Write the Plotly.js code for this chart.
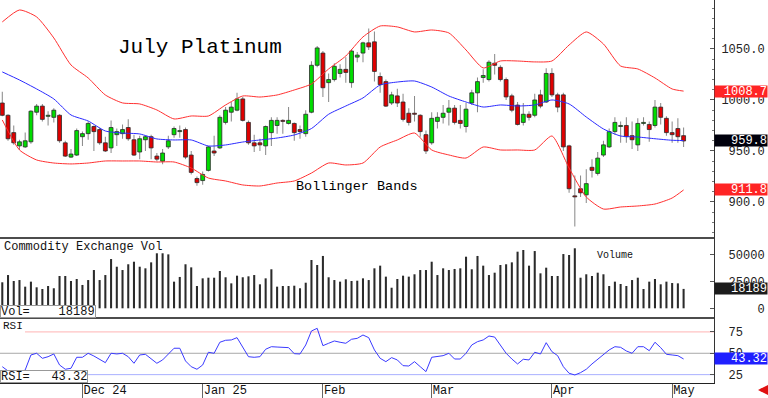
<!DOCTYPE html>
<html><head><meta charset="utf-8">
<script src="https://cdn.plot.ly/plotly-3.0.1.min.js"></script>
<style>html,body{margin:0;padding:0;background:#fff}#chart{width:768px;height:398px}</style>
</head><body><div id="chart"></div>
<script>
// ---- data (trading-day index 0 = Nov 11 2024 ... 119 = May 5 2025) ----
const openP = [997,985,968,955,954,959,988,994,984,983,
 985,958,944,946,964,967,974,971,958,953,
 966,967,973,961,949,961,964,945,940,954,
 966,969,971,946,923,921,931,950,953,978,
 988,990,1001,978,958,958,955,968,975,980,
 977,977,971,967,988,1034,1046,1017,1020,1026,
 1030,1017,1042,1046,1056,1057,1023,1018,997,1004,
 998,987,987,985,966,958,979,983,988,992,
 980,974,997,1007,1022,1020,1036,1032,1020,1004,
 995,978,986,985,1005,998,1026,1005,1005,955,
 906,913,907,934,928,946,954,969,974,975,
 965,956,977,976,975,993,982,968,972,965];
const highP = [1008,986,975,961,968,990,996,996,989,992,
 986,960,952,972,969,979,975,973,964,980,
 972,976,981,966,965,965,966,948,952,965,
 974,975,973,950,925,930,955,965,985,993,
 998,1007,1003,980,966,962,975,983,983,981,
 993,978,975,990,1038,1053,1048,1026,1036,1035,
 1042,1050,1047,1057,1070,1067,1027,1020,1008,1011,
 1006,992,1004,986,970,988,988,995,1000,995,
 995,997,1010,1022,1030,1039,1045,1034,1022,1006,
 998,997,989,1006,1010,1031,1031,1007,1007,956,
 926,926,932,942,949,960,972,983,979,983,
 979,982,983,979,1000,997,984,979,982,973];
const lowP = [984,960,956,951,953,957,985,979,975,978,
 958,944,943,945,955,961,950,956,949,948,
 955,962,960,945,942,950,942,940,937,952,
 963,963,942,927,916,917,930,945,952,976,
 979,989,979,956,949,950,946,955,967,967,
 976,960,962,964,987,1032,1003,998,1018,1022,
 1017,1012,1037,1037,1049,1018,1007,993,995,993,
 979,975,979,964,947,956,972,977,975,976,
 972,968,995,988,1017,1018,1025,1018,1000,988,
 975,975,980,983,992,997,1003,988,950,909,
 876,905,899,924,926,944,953,966,958,958,
 952,950,975,959,973,976,965,958,958,954];
const closeP = [985,962,958,959,960,989,994,981,985,990,
 960,945,947,970,967,977,969,958,950,973,
 969,971,962,946,962,964,953,942,948,960,
 972,970,944,929,919,927,954,948,983,990,
 993,1001,980,958,955,956,974,980,980,979,
 980,968,969,986,1034,1051,1012,1020,1033,1030,
 1027,1048,1044,1056,1052,1028,1015,994,1005,997,
 981,978,986,969,950,982,983,987,992,978,
 977,991,1007,1018,1024,1037,1034,1020,1003,990,
 976,986,983,1000,994,1026,1005,993,954,913,
 905,909,918,931,943,956,969,978,975,964,
 961,977,978,971,993,983,968,966,964,959.8];
const volume = [24400,31200,25600,26500,20300,25000,19700,18100,20900,18800,
 30300,30300,25600,27500,21900,26500,35900,26500,31200,46200,
 39000,35900,41300,43700,39000,37500,43100,51600,51600,50600,
 25000,29400,41300,38400,20900,28100,28700,28700,35000,29100,
 23400,30600,29100,30000,31200,22500,28100,36600,20300,20900,
 20900,21200,18800,24000,45300,40600,49100,29100,26500,25000,
 27200,25600,25900,28100,26500,37500,40000,29700,19300,27500,
 30600,29700,31900,35900,35900,43700,31200,37500,35900,36900,
 37500,48400,36600,49100,40000,31200,33400,40600,41300,43100,
 53100,54700,40000,53700,32800,38100,30300,30300,50900,50000,
 56300,28700,31900,30300,33400,31900,20900,25000,22800,20900,
 26500,28700,18100,25000,27500,22500,25000,23700,23400,18189];
const rsi = [34.3,29.3,27,26,30.5,48,50,44.1,46,49.2,
 36.3,31.3,32.4,45.3,45.3,50,46.8,43,39,50,
 49.2,50,46,38.3,48,48.8,43.3,38.3,42.2,48.8,
 55.9,55.9,41,34.3,31.3,36.3,51.2,50,62.9,65.2,
 65.6,68.3,57.7,46,45.3,46,54.7,57.7,57.3,57,
 56.6,49.5,49.2,59.7,76.1,79.2,58.9,61.7,64.4,62.9,
 61.7,66.4,67.5,71.4,68.3,53.9,44.1,40.2,44.9,42.2,
 35.5,35.1,40.2,34.3,28.5,45.3,46,47.2,50,43.3,
 43.3,50,59.7,63.6,65.6,70.2,69,59.7,50,43.3,
 37.5,43,42.2,51.2,49.2,62.4,51.9,47.2,34.3,26.6,
 24.6,27.3,31.3,37.5,43.3,48.8,53.9,57.7,57,52.7,
 50,57.7,57.7,53,62.9,56.6,48.8,48,47.2,43.32];
const bandIdx = [0,3,6,9,12,15,18,21,24,27,30,33,36,39,42,45,48,51,54,57,60,63,66,69,72,75,78,81,84,87,90,93,96,99,102,105,108,111,114,117,119];
const bbUpper = [1076.5,1088.2,1081.4,1060.8,1034.3,1021.6,1004.9,997.1,996.1,990.2,981.4,984.3,984.3,995.1,1003.9,1002.9,1004.9,1009.8,1015.7,1030.4,1043.1,1061.8,1072.5,1071.6,1066.7,1068.6,1065.7,1049,1031.4,1038.2,1038.2,1037.3,1038.2,1053.9,1066.7,1054.9,1033.3,1030.4,1021.6,1010.8,1008.7];
const bbMiddle = [1027.5,1019.6,1010.8,1001,985.3,979.4,969.6,967.6,966.7,961.8,960.8,960.8,954.9,955.9,958.8,960.8,962.7,965.7,972,986,994.1,1002,1014.7,1017.6,1018.6,1012.7,1003.9,998,993.1,995.1,994.1,995.1,1000,996.1,983.3,971.6,964.7,963.7,962,960.5,960.25];
const bbLower = [980.4,951,941.2,938.2,937.3,938.2,940.2,940.2,940.2,939.2,939.2,933.3,923.5,920.6,916.7,915.7,918.6,920.6,928.4,938.2,936.3,938.2,953.9,960.8,967.6,951,946.1,943.1,953.9,951,951,951,964.7,933.3,904.9,893.1,895.1,896.1,898,903.9,911.8];
const monthIdx = [14,35,56,75,96,117];
const monthLabels = ['Dec 24','Jan 25','Feb','Mar','Apr','May'];
const priceTicks = [900,950,1000,1050];
const volTicks = [0,25000,50000];
const rsiTicks = [25,50,75];

// ---- build ----
const idx = closeP.map((_, i) => i);
const FONT = 'Liberation Mono, DejaVu Sans Mono, monospace';
const NB = '\u00a0';
const pad = (s, n) => NB.repeat(Math.max(0, n - s.length)) + s;

const bodyBase = idx.map(i => Math.min(openP[i], closeP[i]));
const bodyH = idx.map(i => Math.max(Math.abs(closeP[i] - openP[i]), 0.8));
const bodyCol = idx.map(i => closeP[i] >= openP[i] ? '#00dd00' : '#e00000');

const traces = [
  {type:'bar', x: idx, base: lowP, y: idx.map(i => highP[i] - lowP[i]), width: 0.18,
   marker:{color:'#8a8a8a', line:{width:0}}, xaxis:'x', yaxis:'y', hoverinfo:'skip'},
  {type:'bar', x: idx, base: bodyBase, y: bodyH, width: 0.68,
   marker:{color: bodyCol, line:{color:'#2a2a2a', width:0.8}}, xaxis:'x', yaxis:'y'},
  {type:'scatter', mode:'lines', x: bandIdx, y: bbUpper, line:{color:'#ff3030', width:1, shape:'spline', smoothing:0.6}, xaxis:'x', yaxis:'y'},
  {type:'scatter', mode:'lines', x: bandIdx, y: bbMiddle, line:{color:'#2a2aff', width:1, shape:'spline', smoothing:0.6}, xaxis:'x', yaxis:'y'},
  {type:'scatter', mode:'lines', x: bandIdx, y: bbLower, line:{color:'#ff3030', width:1, shape:'spline', smoothing:0.6}, xaxis:'x', yaxis:'y'},
  {type:'bar', x: idx, y: volume, width: 0.36, marker:{color:'#2b2b2b', line:{width:0}}, xaxis:'x', yaxis:'y2'},
  {type:'scatter', mode:'lines', x: idx, y: rsi, line:{color:'#3a3aff', width:1}, xaxis:'x', yaxis:'y3'}
];

const H = 383; // plot height px
const pY = px => 1 - px / H;
const W = 714;
const pX = px => px / W;

const yCommon = {side:'right', showline:true, linecolor:'#333', linewidth:1, showgrid:false, zeroline:false,
  ticks:'inside', ticklen:4, tickcolor:'#555', tickfont:{family:FONT, size:12, color:'#222'}, fixedrange:true,
  tickmode:'array', ticklabelstandoff:4};

const last = closeP.length - 1;
const rbox = (y, yref, txt, bg) => ({xref:'paper', x: pX(768), xanchor:'right', yref, y, yanchor:'middle',
  text: txt, showarrow:false, bgcolor: bg, width: 52, height: 11, align:'right', borderpad:0,
  font:{family:FONT, size:12, color:'#fff'}});

const layout = {
  width:768, height:398, margin:{l:0, r:54, t:0, b:15},
  paper_bgcolor:'#fff', plot_bgcolor:'#fff', showlegend:false, barmode:'overlay',
  xaxis:{range:[-0.4, 124.31], anchor:'y3', showline:true, linecolor:'#222', linewidth:1, showgrid:false, zeroline:false,
    ticks:'outside', ticklen:15, tickcolor:'#666', tickmode:'array', tickvals: monthIdx, ticktext: monthLabels,
    ticklabelposition:'outside right', ticklabelstandoff:-4,
    tickfont:{family:FONT, size:12, color:'#111'}, fixedrange:true},
  yaxis:Object.assign({}, yCommon, {domain:[pY(238), 1], range:[864.7, 1098], tickvals: priceTicks,
    ticktext: priceTicks.map(v => pad(v.toFixed(1), 6)),
    minor:{ticks:'inside', ticklen:2, dtick:10, tick0:0, tickcolor:'#777', showgrid:false}}),
  yaxis2:Object.assign({}, yCommon, {domain:[pY(318), pY(238)], range:[-9099, 65941], tickvals: volTicks,
    ticktext: volTicks.map(v => pad(String(v), 6))}),
  yaxis3:Object.assign({}, yCommon, {domain:[0, pY(318)], range:[15.2, 91.3], tickvals: rsiTicks,
    ticktext: rsiTicks.map(v => NB + v)}),
  shapes:[
    {type:'line', xref:'paper', yref:'paper', x0:0, x1:1, y0:pY(238), y1:pY(238), line:{color:'#111', width:1.5}},
    {type:'line', xref:'paper', yref:'paper', x0:0, x1:1, y0:pY(318), y1:pY(318), line:{color:'#111', width:1.5}},
    {type:'line', xref:'paper', yref:'y3', x0:pX(25), x1:1, y0:75, y1:75, line:{color:'#ffb4b4', width:1}, layer:'below'},
    {type:'line', xref:'paper', yref:'y3', x0:0, x1:1, y0:50, y1:50, line:{color:'#a8a8a8', width:1}, layer:'below'},
    {type:'line', xref:'paper', yref:'y3', x0:0, x1:1, y0:25, y1:25, line:{color:'#aab0ff', width:1}, layer:'below'}
  ],
  annotations:[
    {xref:'paper', yref:'paper', x:pX(116), y:pY(47), xanchor:'left', yanchor:'middle', showarrow:false,
     text:'July Platinum', font:{family:FONT, size:21, color:'#000'}},
    {xref:'paper', yref:'paper', x:pX(294), y:pY(186), xanchor:'left', yanchor:'middle', showarrow:false,
     text:'Bollinger Bands', font:{family:FONT, size:13.5, color:'#000'}},
    {xref:'paper', yref:'paper', x:pX(2), y:pY(247), xanchor:'left', yanchor:'middle', showarrow:false,
     text:'Commodity Exchange Vol', font:{family:FONT, size:12, color:'#111'}},
    {xref:'paper', yref:'paper', x:pX(595), y:pY(255), xanchor:'left', yanchor:'middle', showarrow:false,
     text:'Volume', font:{family:FONT, size:10, color:'#111'}},
    {xref:'paper', yref:'paper', x:pX(1), y:pY(326), xanchor:'left', yanchor:'middle', showarrow:false,
     text:'RSI', font:{family:FONT, size:11, color:'#111'}},
    {xref:'paper', yref:'paper', x:0, y:pY(318), xanchor:'left', yanchor:'bottom', showarrow:false,
     text:'Vol=' + NB.repeat(4) + String(volume[last]), bgcolor:'#fff', bordercolor:'#999', borderwidth:1, borderpad:0,
     height:11, font:{family:FONT, size:12, color:'#111'}},
    {xref:'paper', yref:'paper', x:0, y:0, xanchor:'left', yanchor:'bottom', showarrow:false,
     text:'RSI=' + NB.repeat(3) + rsi[last].toFixed(2), bgcolor:'#fff', bordercolor:'#999', borderwidth:1, borderpad:0,
     height:11, font:{family:FONT, size:12, color:'#111'}},
    rbox(bbUpper[bbUpper.length-1], 'y', bbUpper[bbUpper.length-1].toFixed(1), '#ff2424'),
    rbox(closeP[last], 'y', closeP[last].toFixed(1), '#00000c'),
    rbox(bbLower[bbLower.length-1], 'y', bbLower[bbLower.length-1].toFixed(1), '#ff2424'),
    rbox(volume[last], 'y2', String(volume[last]), '#1c1c1c'),
    rbox(rsi[last], 'y3', rsi[last].toFixed(2), '#1f1fff'),
    {xref:'paper', yref:'paper', x:pX(758), y:pY(390), showarrow:true, ax:8, ay:0, text:' ',
     arrowcolor:'#e01010', arrowhead:2, arrowsize:0.7, arrowwidth:3, standoff:0}
  ]
};

Plotly.newPlot('chart', traces, layout, {staticPlot:true, displayModeBar:false});
</script></body></html>
